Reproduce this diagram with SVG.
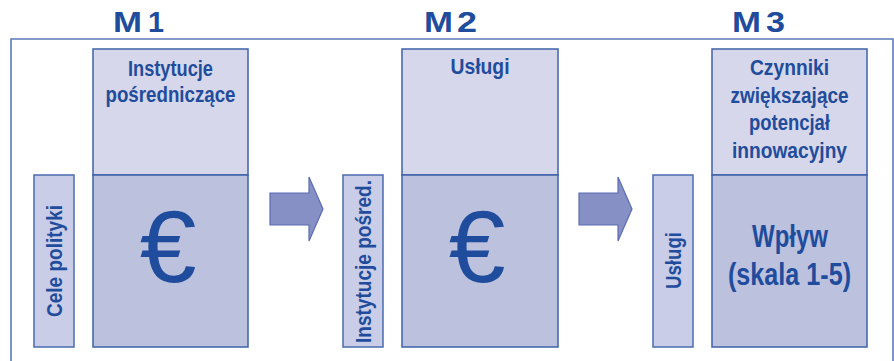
<svg xmlns="http://www.w3.org/2000/svg" width="894" height="361" viewBox="0 0 894 361">
<defs>
<style>
.frame{fill:none;stroke:#5b7bb9;stroke-width:1.6}
.top{fill:#d6d7ea;stroke:#3e62a8;stroke-width:1.5}
.bot{fill:#bcc1de;stroke:#3e62a8;stroke-width:1.5}
.vbox{fill:#c9cde7;stroke:#4a6cb0;stroke-width:1.5}
.arrow{fill:#8790c4;stroke:#5a6cb4;stroke-width:1.2}
text{font-family:"Liberation Sans",Arial,sans-serif;fill:#1f4c9c;font-weight:bold}
.title{font-size:30px}
.lbl{font-size:22px}
.euro{font-size:102px;font-weight:normal}
.big{font-size:31px}
.vt{font-size:22px}
</style>
</defs>
<rect width="894" height="361" fill="#ffffff"/>
<path class="frame" d="M11,361 V39 H893 V361"/>
<text class="title" y="32"><tspan x="113" textLength="29" lengthAdjust="spacingAndGlyphs">M</tspan><tspan x="148" textLength="16" lengthAdjust="spacingAndGlyphs">1</tspan></text>
<text class="title" y="32"><tspan x="424" textLength="29" lengthAdjust="spacingAndGlyphs">M</tspan><tspan x="457" textLength="20" lengthAdjust="spacingAndGlyphs">2</tspan></text>
<text class="title" y="32"><tspan x="732" textLength="29" lengthAdjust="spacingAndGlyphs">M</tspan><tspan x="766" textLength="19" lengthAdjust="spacingAndGlyphs">3</tspan></text>
<g id="cele">
<rect class="vbox" x="34" y="175" width="40" height="172"/>
<text class="vt" transform="translate(62,261) rotate(-90)" text-anchor="middle" textLength="112" lengthAdjust="spacingAndGlyphs">Cele polityki</text>
</g>
<g id="m1-top">
<rect class="top" x="93" y="49" width="155" height="126"/>
<text class="lbl" x="170.5" y="76" text-anchor="middle" textLength="85" lengthAdjust="spacingAndGlyphs">Instytucje</text>
<text class="lbl" x="170.5" y="102" text-anchor="middle" textLength="130" lengthAdjust="spacingAndGlyphs">pośredniczące</text>
</g>
<g id="m1-bot">
<rect class="bot" x="93" y="175" width="155" height="172"/>
<text class="euro" x="168" y="282" text-anchor="middle">€</text>
</g>
<g id="inst">
<rect class="vbox" x="343" y="175" width="40" height="172"/>
<text class="vt" transform="translate(371,261.5) rotate(-90)" text-anchor="middle" textLength="163" lengthAdjust="spacingAndGlyphs">Instytucje pośred.</text>
</g>
<g id="m2-top">
<rect class="top" x="402" y="49" width="156" height="126"/>
<text class="lbl" x="480" y="74" text-anchor="middle" textLength="59" lengthAdjust="spacingAndGlyphs">Usługi</text>
</g>
<g id="m2-bot">
<rect class="bot" x="402" y="175" width="156" height="172"/>
<text class="euro" x="477" y="282" text-anchor="middle">€</text>
</g>
<g id="uslugi">
<rect class="vbox" x="653" y="175" width="40" height="172"/>
<text class="vt" transform="translate(681,260.5) rotate(-90)" text-anchor="middle" textLength="57" lengthAdjust="spacingAndGlyphs">Usługi</text>
</g>
<g id="m3-top">
<rect class="top" x="712" y="49" width="155" height="126"/>
<text class="lbl" x="789.5" y="75" text-anchor="middle" textLength="79" lengthAdjust="spacingAndGlyphs">Czynniki</text>
<text class="lbl" x="789.5" y="102.5" text-anchor="middle" textLength="118" lengthAdjust="spacingAndGlyphs">zwiększające</text>
<text class="lbl" x="789.5" y="130" text-anchor="middle" textLength="81" lengthAdjust="spacingAndGlyphs">potencjał</text>
<text class="lbl" x="789.5" y="157.5" text-anchor="middle" textLength="115" lengthAdjust="spacingAndGlyphs">innowacyjny</text>
</g>
<g id="m3-bot">
<rect class="bot" x="712" y="175" width="155" height="172"/>
<text class="big" x="790" y="247" text-anchor="middle" textLength="76" lengthAdjust="spacingAndGlyphs">Wpływ</text>
<text class="big" x="789.5" y="285" text-anchor="middle" textLength="123" lengthAdjust="spacingAndGlyphs">(skala 1-5)</text>
</g>
<g id="connectors">
<polygon class="arrow" points="270,193 309,193 309,177 323,209 309,241 309,225 270,225"/>
<polygon class="arrow" points="579,193 618,193 618,177 632,209 618,241 618,225 579,225"/>
</g>
</svg>
